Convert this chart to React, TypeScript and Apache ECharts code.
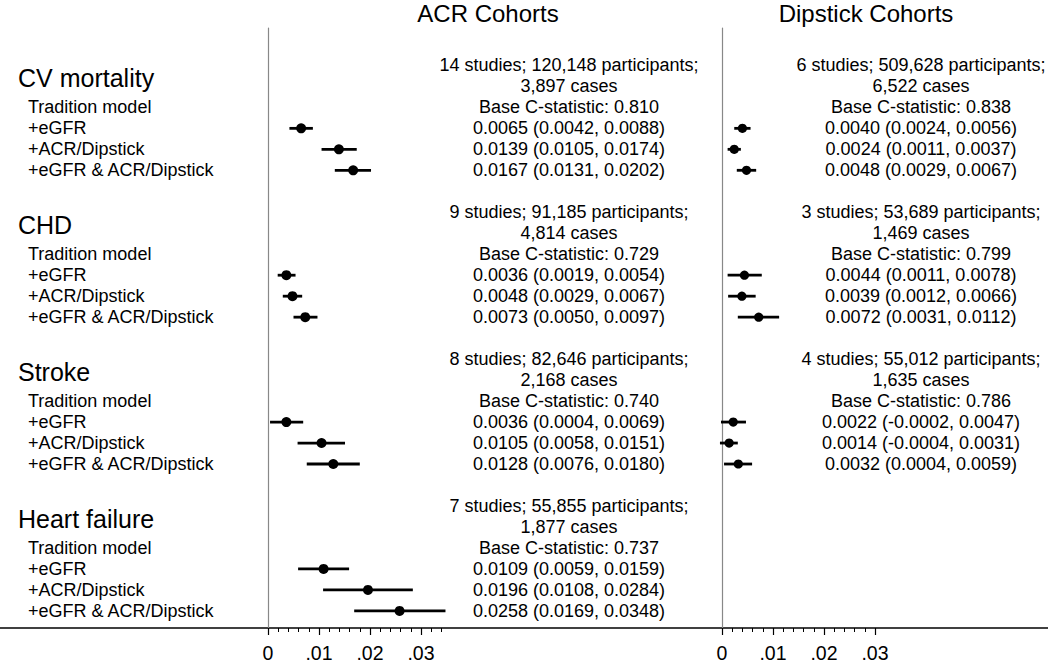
import React, { useEffect, useRef } from "react";
import * as echarts from "echarts";

// ---------- data ----------
const groups = ["CV mortality", "CHD", "Stroke", "Heart failure"];
const models = ["Tradition model", "+eGFR", "+ACR/Dipstick", "+eGFR & ACR/Dipstick"];
const panelTitles = ["ACR Cohorts", "Dipstick Cohorts"];

const acrStudies = [
  "14 studies; 120,148 participants;",
  "9 studies; 91,185 participants;",
  "8 studies; 82,646 participants;",
  "7 studies; 55,855 participants;",
];
const acrCases = ["3,897 cases", "4,814 cases", "2,168 cases", "1,877 cases"];
const acrBaseC = [0.81, 0.729, 0.74, 0.737];
const acrEstimate = [
  [0.0065, 0.0139, 0.0167],
  [0.0036, 0.0048, 0.0073],
  [0.0036, 0.0105, 0.0128],
  [0.0109, 0.0196, 0.0258],
];
const acrLower = [
  [0.0042, 0.0105, 0.0131],
  [0.0019, 0.0029, 0.005],
  [0.0004, 0.0058, 0.0076],
  [0.0059, 0.0108, 0.0169],
];
const acrUpper = [
  [0.0088, 0.0174, 0.0202],
  [0.0054, 0.0067, 0.0097],
  [0.0069, 0.0151, 0.018],
  [0.0159, 0.0284, 0.0348],
];

const dipStudies = [
  "6 studies; 509,628 participants;",
  "3 studies; 53,689 participants;",
  "4 studies; 55,012 participants;",
];
const dipCases = ["6,522 cases", "1,469 cases", "1,635 cases"];
const dipBaseC = [0.838, 0.799, 0.786];
const dipEstimate = [
  [0.004, 0.0024, 0.0048],
  [0.0044, 0.0039, 0.0072],
  [0.0022, 0.0014, 0.0032],
];
const dipLower = [
  [0.0024, 0.0011, 0.0029],
  [0.0011, 0.0012, 0.0031],
  [-0.0002, -0.0004, 0.0004],
];
const dipUpper = [
  [0.0056, 0.0037, 0.0067],
  [0.0078, 0.0066, 0.0112],
  [0.0047, 0.0031, 0.0059],
];

const majorTicks = [0, 0.01, 0.02, 0.03];
const leftMinorTicks = [0.002, 0.004, 0.006, 0.008, 0.012, 0.014, 0.016, 0.018, 0.022, 0.024, 0.026, 0.028, 0.032, 0.034];
const rightMinorTicks = [0.002, 0.004, 0.006, 0.008, 0.012, 0.014, 0.016, 0.018, 0.022, 0.024, 0.026, 0.028];

// ---------- layout ----------
const ROWS_PER_GROUP = 7;
const FONT = "'Liberation Sans', Arial, Helvetica, sans-serif";

const fmt4 = (v: number) => v.toFixed(4);

function buildPanel(studies: string[], cases: string[], baseC: number[], est: number[][], lo: number[][], hi: number[][]) {
  const texts: { slot: number; text: string }[] = [];
  const ci: number[][] = [];
  studies.forEach((s, g) => {
    const b = g * ROWS_PER_GROUP;
    texts.push({ slot: b, text: s });
    texts.push({ slot: b + 1, text: cases[g] });
    texts.push({ slot: b + 2, text: "Base C-statistic: " + baseC[g].toFixed(3) });
    est[g].forEach((e, m) => {
      texts.push({ slot: b + 3 + m, text: `${fmt4(e)} (${fmt4(lo[g][m])}, ${fmt4(hi[g][m])})` });
      ci.push([e, lo[g][m], hi[g][m], b + 3 + m]);
    });
  });
  return { texts, ci };
}

const acrPanel = buildPanel(acrStudies, acrCases, acrBaseC, acrEstimate, acrLower, acrUpper);
const dipPanel = buildPanel(dipStudies, dipCases, dipBaseC, dipEstimate, dipLower, dipUpper);

const leftLabels: { slot: number; text: string; title: boolean }[] = [];
groups.forEach((g, i) => {
  const b = i * ROWS_PER_GROUP;
  leftLabels.push({ slot: b + 0.6, text: g, title: true });
  models.forEach((m, j) => leftLabels.push({ slot: b + 2 + j, text: m, title: false }));
});

const Y_MIN = -1.783;
const Y_MAX = 26.816;

function textStyle(text: string, size: number, align: string) {
  return {
    text,
    fill: "#000",
    fontSize: size,
    fontFamily: FONT,
    align,
    verticalAlign: "middle",
    textAlign: align,
    textVerticalAlign: "middle",
  };
}

function ciSeries(data: number[][], xAxisIndex: number, yAxisIndex: number, r: number) {
  return {
    type: "custom",
    xAxisIndex,
    yAxisIndex,
    silent: true,
    clip: false,
    encode: { x: [0, 1, 2], y: 3 },
    data,
    renderItem: (_p: any, api: any) => {
      const slot = api.value(3);
      const c = api.coord([api.value(0), slot]);
      const a = api.coord([api.value(1), slot]);
      const b = api.coord([api.value(2), slot]);
      return {
        type: "group",
        children: [
          { type: "line", shape: { x1: a[0], y1: a[1], x2: b[0], y2: b[1] }, style: { stroke: "#000", lineWidth: 2.8 } },
          { type: "circle", shape: { cx: c[0], cy: c[1], r }, style: { fill: "#000" } },
        ],
      };
    },
  };
}

function textSeries(items: { slot: number; text: string }[], xAxisIndex: number, yAxisIndex: number, colX: number) {
  return {
    type: "custom",
    xAxisIndex,
    yAxisIndex,
    silent: true,
    clip: false,
    encode: { x: 0, y: 1 },
    data: items.map((t) => [0, t.slot]),
    renderItem: (p: any, api: any) => {
      const y = api.coord([0, api.value(1)])[1];
      return { type: "text", x: colX, y, style: textStyle(items[p.dataIndex].text, 18, "center") };
    },
  };
}

function xAxes(gridIndex: number, max: number, minor: number[]) {
  return [
    {
      gridIndex,
      type: "value",
      min: 0,
      max,
      position: "bottom",
      axisLine: { show: false, onZero: false },
      splitLine: { show: false },
      axisTick: { show: true, customValues: majorTicks, length: 7, lineStyle: { color: "#000", width: 1.2 } },
      axisLabel: {
        customValues: majorTicks,
        color: "#000",
        fontSize: 19.5,
        fontFamily: FONT,
        margin: 15,
        formatter: (v: number) => (v === 0 ? "0" : v.toFixed(2).replace(/^0/, "")),
      },
    },
    {
      gridIndex,
      type: "value",
      min: 0,
      max,
      position: "bottom",
      axisLine: { show: false, onZero: false },
      splitLine: { show: false },
      axisTick: { show: true, customValues: minor, length: 4, lineStyle: { color: "#000", width: 1 } },
      axisLabel: { show: false },
    },
  ];
}

function yAxis(gridIndex: number) {
  return {
    gridIndex,
    type: "value",
    inverse: true,
    min: Y_MIN,
    max: Y_MAX,
    axisLine: { show: true, onZero: false, lineStyle: { color: "#888", width: 1.2 } },
    axisTick: { show: false },
    axisLabel: { show: false },
    splitLine: { show: false },
  };
}

export default function App() {
  const ref = useRef<HTMLDivElement>(null);
  useEffect(() => {
    if (!ref.current) return;
    const chart = echarts.init(ref.current, undefined, { renderer: "svg" });
    const XS = 5100; // px per unit
    chart.setOption({
      animation: false,
      backgroundColor: "#fff",
      grid: [
        { left: 268, top: 28, width: 0.034 * XS, height: 600 },
        { left: 722, top: 28, width: 0.03 * XS, height: 600 },
      ],
      xAxis: [...xAxes(0, 0.034, leftMinorTicks), ...xAxes(1, 0.03, rightMinorTicks)],
      yAxis: [yAxis(0), yAxis(1)],
      graphic: [
        { type: "line", shape: { x1: 0, y1: 628, x2: 1048, y2: 628 }, style: { stroke: "#000", lineWidth: 1.5 }, silent: true },
        { type: "text", x: 488, y: 13, style: textStyle(panelTitles[0], 24, "center"), silent: true },
        { type: "text", x: 866, y: 13, style: textStyle(panelTitles[1], 24, "center"), silent: true },
      ],
      series: [
        ciSeries(acrPanel.ci, 0, 0, 5),
        ciSeries(dipPanel.ci, 2, 1, 4.6),
        textSeries(acrPanel.texts, 0, 0, 569),
        textSeries(dipPanel.texts, 2, 1, 921),
        {
          type: "custom",
          xAxisIndex: 0,
          yAxisIndex: 0,
          silent: true,
          clip: false,
          encode: { x: 0, y: 1 },
          data: leftLabels.map((l) => [0, l.slot]),
          renderItem: (p: any, api: any) => {
            const l = leftLabels[p.dataIndex];
            const y = api.coord([0, api.value(1)])[1];
            return {
              type: "text",
              x: l.title ? 18 : 28,
              y,
              style: textStyle(l.text, l.title ? 25 : 18, "left"),
            };
          },
        },
      ],
    });
    return () => chart.dispose();
  }, []);
  return (
    <div
      ref={ref}
      style={{ position: "absolute", left: 0, top: 0, width: 1050, height: 663, background: "#fff" }}
    />
  );
}
